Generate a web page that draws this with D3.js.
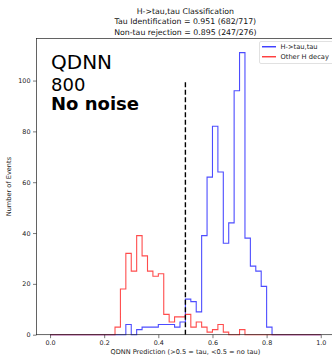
<!DOCTYPE html>
<html>
<head>
<meta charset="utf-8">
<script src="https://cdn.jsdelivr.net/npm/d3@7"></script>
<style>
  body { margin: 0; background: #fff; }
  text { font-family: "DejaVu Sans", sans-serif; }
</style>
</head>
<body>
<div class="main"></div>
<script>
const w = 332;
const h = 355;

// histogram: 50 bins of width 0.02 over [0, 1]
const binStart = 0;
const binWidth = 0.02;
const tauCounts = [
  0, 0, 0, 0, 0, 0, 0, 0, 0, 0,
  0, 0, 0, 0, 4, 0, 2, 3, 3, 3,
  4, 4, 4, 3, 5, 14, 13, 9, 39, 62,
  82, 64, 36, 44, 96, 111, 38, 27, 25, 19,
  3, 0, 0, 0, 0, 0, 0, 0, 0, 0
];
const otherCounts = [
  0, 0, 0, 0, 0, 0, 0, 0, 0, 0,
  0, 0, 3, 18, 32, 25, 39, 31, 25, 23,
  24, 8, 5, 7, 7, 8, 3, 5, 3, 1,
  2, 4, 1, 0, 0, 2, 0, 0, 0, 0,
  0, 0, 0, 0, 0, 0, 0, 0, 0, 0
];
const seriesNames = ['H->tau,tau', 'Other H decay'];
const titleLines = [
  'H->tau,tau Classification',
  'Tau Identification = 0.951 (682/717)',
  'Non-tau rejection = 0.895 (247/276)'
];
const noteLines = ['QDNN', '800', 'No noise'];
const xTicks = [0.0, 0.2, 0.4, 0.6, 0.8, 1.0];
const yTicks = [0, 20, 40, 60, 80, 100];
const cutValue = 0.5;
const cutHeight = 100;

const margin = { left: 36.5, top: 38.5, bottom: 20.3 };
const axRight = 334.3;

const svg = d3.select('.main').append('svg').attr('width', w).attr('height', h);

const x = d3.scaleLinear().domain([-0.05, 1.05]).range([margin.left, axRight]);
const y = d3.scaleLinear().domain([0, 116.55]).range([h - margin.bottom, margin.top]);

// step outline like matplotlib histtype='step'
function stepPoints(counts) {
  const pts = [[binStart, 0]];
  counts.forEach(function (c, i) {
    const x0 = binStart + i * binWidth;
    pts.push([x0, c]);
    pts.push([x0 + binWidth, c]);
  });
  pts.push([binStart + counts.length * binWidth, 0]);
  return pts;
}

const line = d3.line().x(d => x(d[0])).y(d => y(d[1]));

const g = svg.append('g');

g.append('path')
  .attr('d', line(stepPoints(tauCounts)))
  .attr('fill', 'none')
  .attr('stroke', 'blue')
  .attr('stroke-opacity', 0.7)
  .attr('stroke-width', 1.1);

g.append('path')
  .attr('d', line(stepPoints(otherCounts)))
  .attr('fill', 'none')
  .attr('stroke', 'red')
  .attr('stroke-opacity', 0.7)
  .attr('stroke-width', 1.1);

// cut line
g.append('line')
  .attr('x1', x(cutValue)).attr('x2', x(cutValue))
  .attr('y1', y(0)).attr('y2', y(cutHeight))
  .attr('stroke', 'black')
  .attr('stroke-width', 1.4)
  .attr('stroke-dasharray', '5,2.5');

// axes
const xAxis = d3.axisBottom(x).tickValues(xTicks).tickFormat(d3.format('.1f')).tickSizeOuter(0).tickSize(3.5).tickPadding(2.5);
const yAxis = d3.axisLeft(y).tickValues(yTicks).tickFormat(d3.format('d')).tickSizeOuter(0).tickSize(3.5).tickPadding(2.5);

const gx = svg.append('g').attr('transform', `translate(0,${y(0)})`).call(xAxis);
const gy = svg.append('g').attr('transform', `translate(${margin.left},0)`).call(yAxis);

[gx, gy].forEach(function (a) {
  a.select('.domain').remove();
  a.selectAll('line').attr('stroke', '#222').attr('stroke-width', 0.6);
  a.selectAll('text').attr('font-size', 6.4).attr('fill', '#222').attr('font-family', 'DejaVu Sans');
});

// spines
svg.append('rect')
  .attr('x', margin.left).attr('y', margin.top)
  .attr('width', axRight - margin.left).attr('height', y(0) - margin.top)
  .attr('fill', 'none').attr('stroke', '#222').attr('stroke-width', 0.7);

// titles
svg.selectAll('.title').data(titleLines).enter().append('text')
  .attr('class', 'title')
  .attr('x', 185.4)
  .attr('y', (d, i) => 13.8 + i * 10.4)
  .attr('text-anchor', 'middle')
  .attr('font-size', 7.8)
  .attr('fill', '#111')
  .text(d => d);

svg.append('text')
  .attr('x', 185.4).attr('y', 353.5)
  .attr('text-anchor', 'middle')
  .attr('font-size', 6.6).attr('fill', '#222')
  .text('QDNN Prediction (>0.5 = tau, <0.5 = no tau)');

svg.append('text')
  .attr('transform', `translate(11,${(margin.top + y(0)) / 2}) rotate(-90)`)
  .attr('text-anchor', 'middle')
  .attr('font-size', 6.6).attr('fill', '#222')
  .text('Number of Events');

// annotation
const noteSizes = [20, 18, 18];
const noteY = [68.5, 91, 110];
noteLines.forEach(function (t, i) {
  svg.append('text')
    .attr('x', 51)
    .attr('y', noteY[i])
    .attr('font-size', noteSizes[i])
    .attr('font-weight', i === 2 ? 'bold' : 'normal')
    .attr('fill', '#000')
    .text(t);
});

// legend
const lg = svg.append('g').attr('transform', 'translate(259.5,41.5)');
lg.append('rect')
  .attr('width', 80).attr('height', 22)
  .attr('rx', 1.5)
  .attr('fill', '#fff').attr('fill-opacity', 0.8)
  .attr('stroke', '#ccc').attr('stroke-width', 0.6);
['blue', 'red'].forEach(function (c, i) {
  lg.append('line')
    .attr('x1', 2.5).attr('x2', 16.5)
    .attr('y1', 5.3 + i * 10).attr('y2', 5.3 + i * 10)
    .attr('stroke', c).attr('stroke-width', 1.1);
  lg.append('text')
    .attr('x', 21).attr('y', 7.6 + i * 10)
    .attr('font-size', 6.7).attr('fill', '#222')
    .text(seriesNames[i]);
});
</script>
</body>
</html>
